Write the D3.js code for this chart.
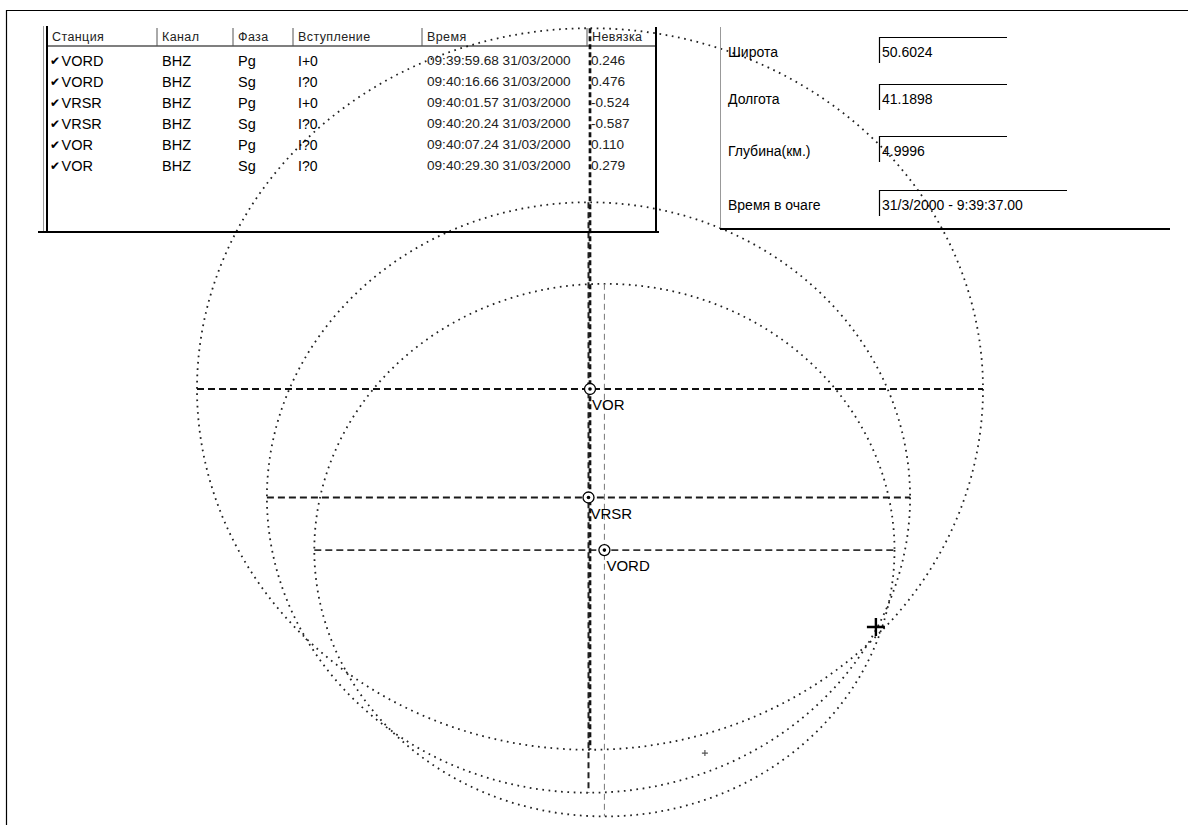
<!DOCTYPE html>
<html><head><meta charset="utf-8">
<script src="https://cdn.jsdelivr.net/npm/d3@7/dist/d3.min.js"></script>
<style>body{margin:0;background:#fff}svg{display:block}</style>
</head><body>
<script>
// ---- map data (km relative to station VOR) ----
const stationNames = ["VOR", "VRSR", "VORD"];
const stationEast = [0, -0.5, 4.8];
const stationNorth = [0, -39.4, -58.5];
const stationRadius = [131, 107.2, 96.7];
const epicenter = [95.3, -86.4];
const candidates = [[38.3, -132.2]];

// ---- table data ----
const tableHeaders = ["Станция", "Канал", "Фаза", "Вступление", "Время", "Невязка"];
const rowStations = ["VORD", "VORD", "VRSR", "VRSR", "VOR", "VOR"];
const rowChannels = ["BHZ", "BHZ", "BHZ", "BHZ", "BHZ", "BHZ"];
const rowPhases = ["Pg", "Sg", "Pg", "Sg", "Pg", "Sg"];
const rowOnsets = ["I+0", "I?0", "I+0", "I?0", "I?0", "I?0"];
const rowTimes = ["09:39:59.68 31/03/2000", "09:40:16.66 31/03/2000", "09:40:01.57 31/03/2000",
                  "09:40:20.24 31/03/2000", "09:40:07.24 31/03/2000", "09:40:29.30 31/03/2000"];
const rowResiduals = ["0.246", "0.476", "-0.524", "-0.587", "0.110", "0.279"];

// ---- solution form ----
const formLabels = ["Широта", "Долгота", "Глубина(км.)", "Время в очаге"];
const formValues = ["50.6024", "41.1898", "4.9996", "31/3/2000 - 9:39:37.00"];

const W = 1188, H = 825;
const svg = d3.select("body").append("svg").attr("width", W).attr("height", H)
  .style("font-family", "'Liberation Sans', Arial, sans-serif");

// page frame
svg.append("path").attr("d", `M6.5,${H} V10.5 H${W}`).attr("fill", "none").attr("stroke", "#000").attr("stroke-width", 1.2);

// ---- scales ----
const x = d3.scaleLinear().domain([0, 100]).range([590, 890]);
const y = d3.scaleLinear().domain([0, -100]).range([389, 664.4]);

const st = stationNames.map((n, i) => ({ name: n, e: stationEast[i], n: stationNorth[i], r: stationRadius[i], i }));

const g = svg.append("g");

// distance ellipses (dotted)
g.selectAll("ellipse.dist").data(st).join("ellipse")
  .attr("cx", d => x(d.e)).attr("cy", d => y(d.n))
  .attr("rx", d => x(d.e + d.r) - x(d.e))
  .attr("ry", d => y(d.n - d.r) - y(d.n))
  .attr("fill", "none").attr("stroke", "#222").attr("stroke-width", 1.8)
  .attr("stroke-dasharray", "1.7,4.6");

// cross lines (dashed)
const hStyle = [{ c: "#111", w: 2.1 }, { c: "#1a1a1a", w: 2 }, { c: "#333", w: 1.7 }];
const vStyle = [{ c: "#111", w: 2.7, d: "5,3" }, { c: "#222", w: 2, d: "6,4" }, { c: "#777", w: 1, d: "6,4" }];
g.selectAll("line.h").data(st).join("line")
  .attr("x1", d => x(d.e - d.r)).attr("x2", d => x(d.e + d.r))
  .attr("y1", d => y(d.n)).attr("y2", d => y(d.n))
  .attr("stroke", d => hStyle[d.i].c).attr("stroke-width", d => hStyle[d.i].w)
  .attr("stroke-dasharray", "7,4");
g.selectAll("line.v").data(st).join("line")
  .attr("x1", d => x(d.e)).attr("x2", d => x(d.e))
  .attr("y1", d => y(d.n + d.r)).attr("y2", d => y(d.n - d.r))
  .attr("stroke", d => vStyle[d.i].c).attr("stroke-width", d => vStyle[d.i].w)
  .attr("stroke-dasharray", d => vStyle[d.i].d);

// station markers
const mk = g.selectAll("g.st").data(st).join("g").attr("transform", d => `translate(${x(d.e)},${y(d.n)})`);
mk.append("circle").attr("r", 5.5).attr("fill", "#fff").attr("stroke", "#000").attr("stroke-width", 1.3);
mk.append("circle").attr("r", 1.8).attr("fill", "#000");
mk.append("text").attr("x", 2).attr("y", 21).attr("font-size", 15).attr("fill", "#000").text(d => d.name);

// epicenter
const ep = g.append("g").attr("transform", `translate(${x(epicenter[0])},${y(epicenter[1])})`);
ep.append("path").attr("d", "M-9,0H9M0,-9V9").attr("stroke", "#000").attr("stroke-width", 2.4);
g.selectAll("path.cand").data(candidates).join("path")
  .attr("transform", d => `translate(${x(d[0])},${y(d[1])})`)
  .attr("d", "M-3,0H3M0,-3V3").attr("stroke", "#555").attr("stroke-width", 1.2);

// ---- table ----
const colX = d3.scaleOrdinal().domain(tableHeaders).range([52, 162, 238, 298, 427, 592]);
const rowY = d3.scaleLinear().domain([0, 1]).range([65.5, 86.5]);
const tb = svg.append("g");
tb.append("line").attr("x1", 43.5).attr("x2", 43.5).attr("y1", 26).attr("y2", 232).attr("stroke", "#999").attr("stroke-width", 1);
tb.append("line").attr("x1", 47).attr("x2", 47).attr("y1", 26).attr("y2", 233).attr("stroke", "#000").attr("stroke-width", 2);
tb.append("line").attr("x1", 47).attr("x2", 656).attr("y1", 46).attr("y2", 46).attr("stroke", "#000").attr("stroke-width", 1.2);
tb.append("line").attr("x1", 656).attr("x2", 656).attr("y1", 27).attr("y2", 233).attr("stroke", "#000").attr("stroke-width", 2);
tb.append("line").attr("x1", 38).attr("x2", 659).attr("y1", 232).attr("y2", 232).attr("stroke", "#000").attr("stroke-width", 2);
tb.selectAll("line.sep").data(tableHeaders.slice(1)).join("line")
  .attr("x1", d => colX(d) - 5).attr("x2", d => colX(d) - 5).attr("y1", 28).attr("y2", 46)
  .attr("stroke", "#555").attr("stroke-width", 1);
tb.selectAll("text.hd").data(tableHeaders).join("text")
  .attr("x", d => colX(d)).attr("y", 41).attr("font-size", 12.5).attr("letter-spacing", 0.4)
  .attr("fill", "#222").text(d => d);

const rows = rowStations.map((s, i) => ({ s, c: rowChannels[i], p: rowPhases[i], o: rowOnsets[i], t: rowTimes[i], r: rowResiduals[i], i }));
const rg = tb.selectAll("g.row").data(rows).join("g").attr("transform", d => `translate(0,${rowY(d.i)})`);
rg.append("text").attr("x", colX(tableHeaders[0]) - 2).attr("y", -1).attr("font-size", 12)
  .style("font-family", "'DejaVu Sans'").text("✔");
rg.append("text").attr("x", colX(tableHeaders[0]) + 9.5).attr("font-size", 14.5).text(d => d.s);
rg.append("text").attr("x", colX(tableHeaders[1])).attr("font-size", 14.5).text(d => d.c);
rg.append("text").attr("x", colX(tableHeaders[2])).attr("font-size", 14.5).text(d => d.p);
rg.append("text").attr("x", colX(tableHeaders[3])).attr("font-size", 14).text(d => d.o);
rg.append("text").attr("x", colX(tableHeaders[4])).attr("y", -1).attr("font-size", 13.6).attr("fill", "#222").text(d => d.t);
rg.append("text").attr("x", colX(tableHeaders[5]) - 1).attr("y", -1).attr("font-size", 13.6).attr("fill", "#222").text(d => d.r);

// ---- solution form ----
const formY = d3.scaleOrdinal().domain(formLabels).range([37, 84, 136, 190]);
const formW = [128, 128, 128, 188];
const fm = svg.append("g");
fm.append("line").attr("x1", 720.5).attr("x2", 720.5).attr("y1", 27).attr("y2", 229).attr("stroke", "#999");
fm.append("line").attr("x1", 720).attr("x2", 1170).attr("y1", 229).attr("y2", 229).attr("stroke", "#000").attr("stroke-width", 2);
const fr = fm.selectAll("g.f").data(formLabels).join("g").attr("transform", d => `translate(0,${formY(d)})`);
fr.append("text").attr("x", 728).attr("y", 20).attr("font-size", 14).text(d => d);
fr.append("path").attr("d", (d, i) => `M879.5,26V0.5H${879 + formW[i]}`).attr("fill", "none").attr("stroke", "#000").attr("stroke-width", 1.2);
fr.append("text").attr("x", 882).attr("y", 20).attr("font-size", 14).text((d, i) => formValues[i]);
</script>
</body></html>
